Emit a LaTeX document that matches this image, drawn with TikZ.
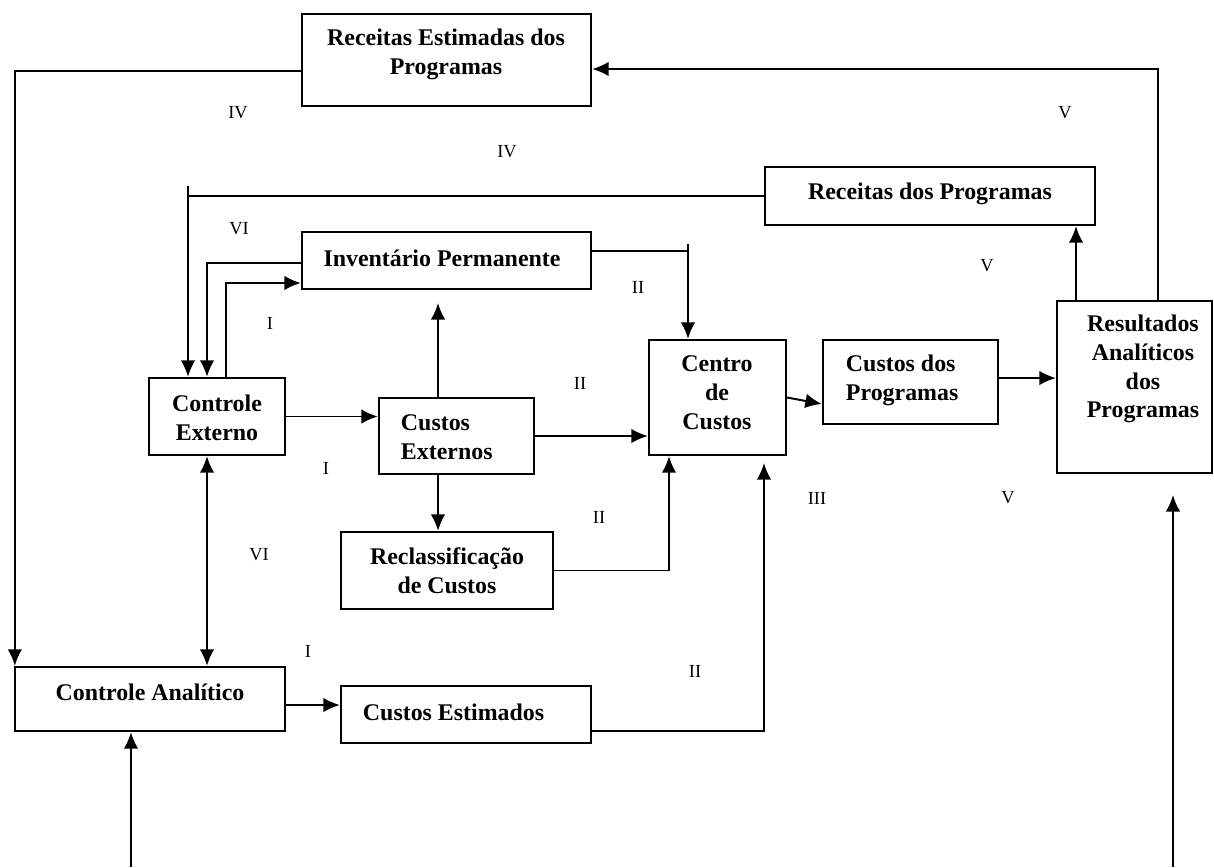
\documentclass[tikz,border=0pt]{standalone}
\usepackage{fontspec}
\setmainfont{Liberation Serif}
\usepackage{tikz}
\usetikzlibrary{calc}
\usetikzlibrary{arrows.meta}
\usetikzlibrary{positioning}
\usetikzlibrary{fit}
\tikzset{>={Latex[length=0.33cm,width=0.29cm]}}
\tikzstyle{box} = [draw, line width=1.3pt, inner sep=0]
\tikzstyle{txt} = [align=center, inner sep=0, font=\bfseries\fontsize{13.6}{16.4}\selectfont]
\tikzstyle{lbl} = [inner sep=0, font=\fontsize{10.5}{12}\selectfont]

\begin{document}
\begin{tikzpicture}[x=0.02cm, y=-0.02cm, line width=1.1pt]
\useasboundingbox (0,0) rectangle (1214,867);
% boxes
\node [box, fit={(302,14) (591,106)}] (rep) {};
\node [box, fit={(765,167) (1095,225)}] (rp) {};
\node [box, fit={(302,232) (591,289)}] (inv) {};
\node [box, fit={(149,378) (285,455)}] (ce) {};
\node [box, fit={(379,398) (534,474)}] (cx) {};
\node [box, fit={(341,532) (553,609)}] (rc) {};
\node [box, fit={(649,340) (786,455)}] (cc) {};
\node [box, fit={(823,340) (998,424)}] (cp) {};
\node [box, fit={(1057,301) (1212,473)}] (ra) {};
\node [box, fit={(15,667) (285,731)}] (ca) {};
\node [box, fit={(341,686) (591,743)}] (ces) {};
% box texts
\node [txt] (repT) at (446,54) {Receitas Estimadas dos\\Programas};
\node [txt] (rpT) at (930,194) {Receitas dos Programas};
\node [txt] (invT) at (442,258) {Inventário Permanente};
\node [txt] (ceT) at (217,418) {Controle\\Externo};
\node [txt, align=left, anchor=west] (cxT) at (400,437) {Custos\\Externos};
\node [txt] (rcT) at (447,571) {Reclassificação\\de Custos};
\node [txt] (ccT) at (717,393) {Centro\\de\\Custos};
\node [txt, align=left, anchor=west] (cpT) at (845,380) {Custos dos\\Programas};
\node [txt] (raT) at (1143,369) {Resultados\\Analíticos\\dos\\Programas};
\node [txt] (caT) at (150,692) {Controle Analítico};
\node [txt, anchor=west] (cesT) at (362,712) {Custos Estimados};
% roman labels
\node [lbl] (l1) at (238,113) {IV};
\node [lbl] (l2) at (507,152) {IV};
\node [lbl] (l3) at (1065,113) {V};
\node [lbl] (l4) at (239,229) {VI};
\node [lbl] (l5) at (987,266) {V};
\node [lbl] (l6) at (638,287) {II};
\node [lbl] (l7) at (270,323) {I};
\node [lbl] (l8) at (580,383) {II};
\node [lbl] (l9) at (326,468) {I};
\node [lbl] (l10) at (599,517) {II};
\node [lbl] (l11) at (259,555) {VI};
\node [lbl] (l12) at (817,498) {III};
\node [lbl] (l13) at (1008,498) {V};
\node [lbl] (l14) at (308,651) {I};
\node [lbl] (l15) at (695,671) {II};
% free ends
\coordinate (tk1) at (188,186);
\coordinate (tk2) at (688,244);
\coordinate (up1) at (438,303);
\coordinate (up2) at (764,463);
\coordinate (bt1) at (131,867);
\coordinate (bt2) at (1173,867);
\coordinate (up3) at (1173,495);
% connectors
\draw [->] ([yshift=-0.22cm]rep.west) -| ([xshift=0.02cm]ca.north west);
\draw [->] ([xshift=0.47cm]ra.north) |- ([yshift=-0.18cm]rep.east);
\draw (rp.west) -| (tk1);
\draw [->] (tk1) -- (tk1 |- ce.north);
\draw [->] ([yshift=-0.05cm]inv.west) -| ([xshift=-0.2cm]ce.north);
\draw [->] ([xshift=0.18cm]ce.north) |- ([yshift=-0.45cm]inv.west);
\draw ([yshift=0.19cm]inv.east) -| (tk2);
\draw [->] (tk2) -- (tk2 |- cc.north);
\draw [->] (up1 |- cx.north) -- (up1);
\draw [->] (ce.east) -- (ce.east -| cx.west);
\draw [->] (cx.east) -- (cx.east -| cc.west);
\draw [->] (up1 |- cx.south) -- (up1 |- rc.north);
\draw [->] (rc.east) -| ([xshift=-0.97cm]cc.south);
\draw [<->] ([xshift=-0.2cm]ce.south) -- ([xshift=-0.2cm]ce.south |- ca.north);
\draw [->] (cc.east) -- ([yshift=-0.44cm]cp.west);
\draw [->] ([yshift=0.08cm]cp.east) -- ([yshift=0.08cm]cp.east -| ra.west);
\draw [->] ([xshift=-1.17cm]ra.north) -- ([xshift=-1.17cm]ra.north |- rp.south);
\draw [->] ([yshift=-0.12cm]ca.east) -- ([yshift=-0.12cm]ca.east -| ces.west);
\draw [->] ([yshift=-0.33cm]ces.east) -| (up2);
\draw [->] (bt1) -- (bt1 |- ca.south);
\draw [->] (bt2) -- (up3);
\end{tikzpicture}
\end{document}
